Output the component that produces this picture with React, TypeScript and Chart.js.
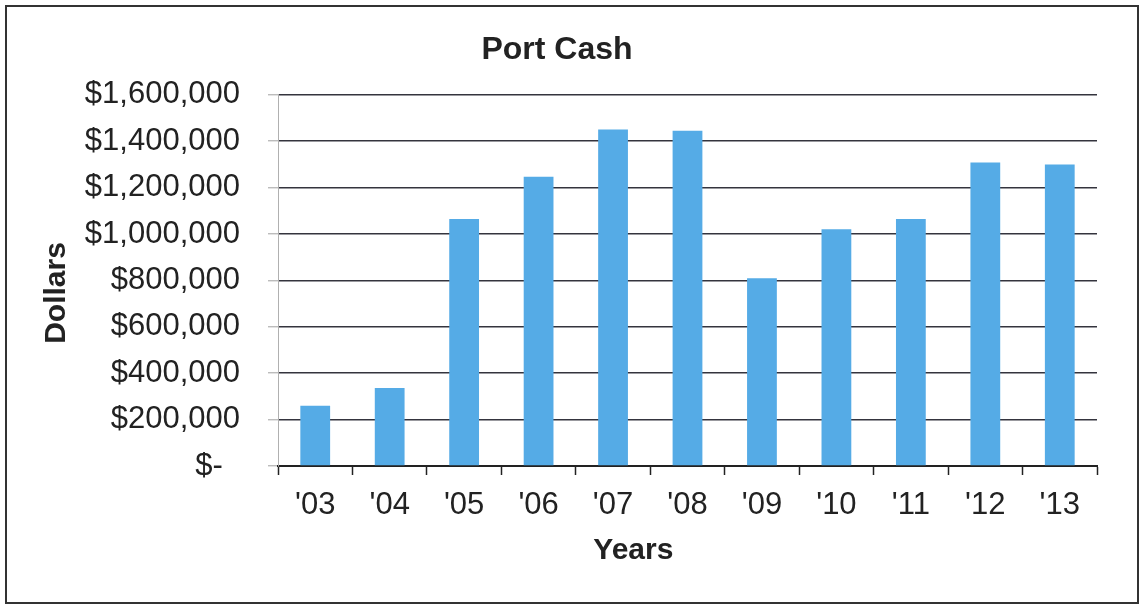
import React, { useEffect, useRef } from "react";
import { Chart, registerables } from "chart.js";

Chart.register(...registerables);

const chartTitle = "Port Cash";
const xAxisTitle = "Years";
const yAxisTitle = "Dollars";
const years = ["'03", "'04", "'05", "'06", "'07", "'08", "'09", "'10", "'11", "'12", "'13"];
const portCash = [260000, 336000, 1065000, 1247000, 1451000, 1445000, 809000, 1021000, 1065000, 1309000, 1300000];
const yTickValues = [0, 200000, 400000, 600000, 800000, 1000000, 1200000, 1400000, 1600000];
const yTickLabels = ["$-  ", "$200,000", "$400,000", "$600,000", "$800,000", "$1,000,000", "$1,200,000", "$1,400,000", "$1,600,000"];

const FONT = "'Liberation Sans', Arial, sans-serif";

export default function App() {
  const ref = useRef<HTMLCanvasElement | null>(null);

  useEffect(() => {
    document.body.style.margin = "0";
    const canvas = ref.current;
    if (!canvas) return;
    const chart = new Chart(canvas, {
      type: "bar",
      data: {
        labels: years,
        datasets: [
          {
            label: chartTitle,
            data: portCash,
            backgroundColor: "#55abe6",
            borderWidth: 0,
            categoryPercentage: 1,
            barPercentage: 0.4,
          },
        ],
      },
      options: {
        responsive: false,
        animation: false,
        devicePixelRatio: 1,
        layout: { padding: { left: 10, right: 40, top: 0, bottom: 20 } },
        plugins: {
          legend: { display: false },
          tooltip: { enabled: false },
          title: {
            display: true,
            text: chartTitle,
            color: "#222",
            font: { family: FONT, size: 32, weight: "bold" },
            padding: { top: 24, bottom: 25.5 },
          },
        },
        scales: {
          x: {
            afterFit: (s: any) => {
              s.height = 116;
            },
            grid: {
              display: true,
              drawOnChartArea: false,
              drawTicks: true,
              tickLength: 9,
              tickColor: "#222",
              tickWidth: 1.5,
              offset: true,
            },
            border: { display: true, color: "#222", width: 2 },
            ticks: {
              color: "#222",
              padding: 12,
              font: { family: FONT, size: 31 },
              maxRotation: 0,
            },
            title: {
              display: true,
              text: xAxisTitle + "             ",
              color: "#222",
              font: { family: FONT, size: 30, weight: "bold" },
              padding: { top: 10, bottom: 13 },
            },
          },
          y: {
            min: 0,
            max: 1600000,
            afterFit: (s: any) => {
              s.width = 261;
            },
            afterBuildTicks: (s: any) => {
              s.ticks = yTickValues.map((v) => ({ value: v }));
            },
            grid: {
              color: (ctx: any) => (ctx.tick && ctx.tick.value === 0 ? "rgba(0,0,0,0)" : "#34343e"),
              lineWidth: 1.6,
              tickLength: 10,
              tickColor: "#a0a0a0",
              tickWidth: 1,
            },
            border: { display: true, color: "#b0b0b0", width: 1 },
            ticks: {
              color: "#222",
              padding: 28,
              font: { family: FONT, size: 31 },
              callback: (_v: any, i: number) => yTickLabels[i],
            },
            title: {
              display: true,
              text: yAxisTitle + "   ",
              color: "#222",
              font: { family: FONT, size: 30, weight: "bold" },
              padding: { top: 22, bottom: 0 },
            },
          },
        },
      },
    } as any);
    return () => chart.destroy();
  }, []);

  return (
    <div
      style={{
        position: "absolute",
        left: 5,
        top: 5,
        width: 1130,
        height: 595,
        border: "2px solid #333",
        background: "#fff",
      }}
    >
      <canvas ref={ref} width={1130} height={595} style={{ display: "block" }} />
    </div>
  );
}
